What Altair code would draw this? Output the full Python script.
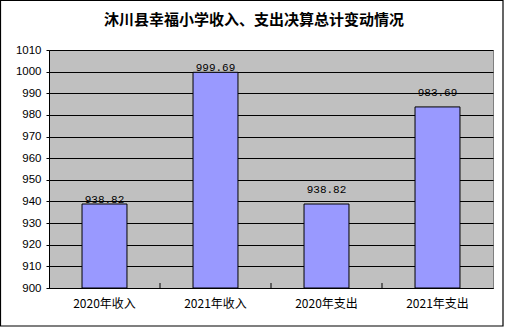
import altair as alt
import pandas as pd

title_text = "沐川县幸福小学收入、支出决算总计变动情况"
categories = ["2020年收入", "2021年收入", "2020年支出", "2021年支出"]
values = [938.82, 999.69, 938.82, 983.69]
labels = ["938.82", "999.69", "938.82", "983.69"]
y_ticks = list(range(900, 1011, 10))
y_min, y_max = 900, 1010

df = pd.DataFrame({"cat": categories, "val": values, "lab": labels, "idx": list(range(len(categories)))})

W, H = 444, 238
p_inner = 0.595
xscale = alt.Scale(domain=categories, paddingInner=p_inner, paddingOuter=p_inner / 2)
yscale = alt.Scale(domain=[y_min, y_max], nice=False, zero=False)

X = alt.X("cat:N", scale=xscale, sort=categories, title=None,
          axis=alt.Axis(labelAngle=0, ticks=False, labelPadding=10, labelFont="Noto Sans CJK SC",
                        labelFontSize=12, labelColor="black", domainColor="black"))
Y = alt.Y("val:Q", scale=yscale, title=None,
          axis=alt.Axis(values=y_ticks, grid=True, gridColor="black", gridOpacity=1, tickSize=3,
                        tickColor="black", labelPadding=5, labelFont="Liberation Sans", format="d",
                        labelOverlap=False, labelFontSize=11.5, labelColor="black", domainColor="black"))

base = alt.Chart(df)

bars = base.mark_bar(color="#9999FF", stroke="black", strokeWidth=1).encode(
    x=X, y=Y, y2=alt.datum(y_min),
)

# inward category-boundary ticks on the x axis (half a gap past each band's end)
step = W / len(categories)
half_gap = step * p_inner / 2
bticks = base.transform_filter("datum.idx < 3").mark_rule(color="black", strokeWidth=1, xOffset=half_gap).encode(
    x=alt.X("cat:N", scale=xscale, sort=categories, bandPosition=1),
    y=alt.value(H), y2=alt.value(H - 5),
)

txt1 = base.transform_filter("datum.idx < 2").mark_text(
    baseline="alphabetic", dy=-1, font="Liberation Mono", fontSize=11, color="black"
).encode(x=X, y=Y, text="lab:N")

txt2 = base.transform_filter("datum.idx >= 2").mark_text(
    baseline="alphabetic", dy=-11, font="Liberation Mono", fontSize=11, color="black"
).encode(x=X, y=Y, text="lab:N")

one = pd.DataFrame({"t": [title_text]})
border = alt.Chart(one).mark_rect(fill=None, stroke="black", strokeWidth=1.2).encode(
    x=alt.value(-48.5), x2=alt.value(454), y=alt.value(-49.5), y2=alt.value(276)
)
title = alt.Chart(one).mark_text(font="Noto Sans CJK SC", fontSize=15, fontWeight="bold",
                                 color="black", baseline="middle", align="center").encode(
    x=alt.value(205), y=alt.value(-30), text="t:N"
)

chart = alt.layer(bars, bticks, txt1, txt2, border, title).properties(
    width=W, height=H,
    autosize=alt.AutoSizeParams(type="none"),
    padding={"left": 49, "top": 50, "right": 13, "bottom": 39},
    background="white",
).configure_view(fill="#C0C0C0", stroke="#808080")

chart.save("out.html", embed_options={"renderer": "svg", "actions": False})
